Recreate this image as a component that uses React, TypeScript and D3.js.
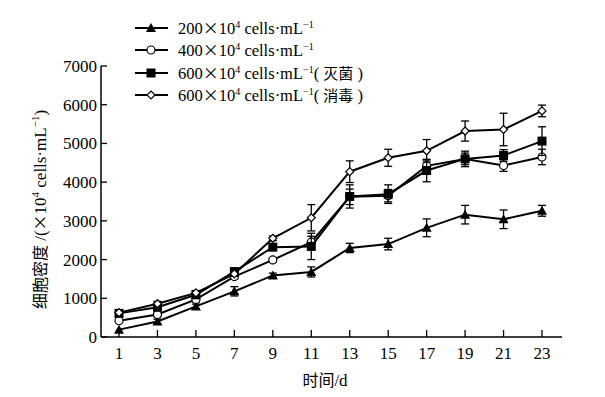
import React from "react";
import * as d3 from "d3";

const days = [1, 3, 5, 7, 9, 11, 13, 15, 17, 19, 21, 23];
const yTicks = [0, 1000, 2000, 3000, 4000, 5000, 6000, 7000];

const s200 = [190, 400, 790, 1180, 1590, 1680, 2300, 2400, 2820, 3160, 3040, 3260];
const s200Err = [0, 60, 60, 120, 60, 130, 120, 150, 230, 240, 240, 140];
const s400 = [420, 580, 970, 1560, 1990, 2450, 3620, 3650, 4420, 4600, 4430, 4650];
const s400Err = [0, 60, 60, 60, 60, 150, 200, 160, 150, 150, 150, 200];
const s600s = [610, 770, 1090, 1690, 2320, 2340, 3630, 3690, 4300, 4600, 4690, 5060];
const s600sErr = [40, 60, 60, 60, 60, 340, 300, 240, 290, 200, 150, 370];
const s600d = [630, 860, 1140, 1630, 2550, 3080, 4270, 4630, 4810, 5320, 5360, 5840];
const s600dErr = [40, 60, 60, 60, 60, 340, 280, 220, 290, 260, 420, 150];

const legendBase = ["200", "400", "600", "600"];
const legendNote = ["", "", "灭菌", "消毒"];

type Mk = "tri" | "circ" | "sq" | "dia";
const series: { vals: number[]; err: number[]; mk: Mk }[] = [
  { vals: s200, err: s200Err, mk: "tri" },
  { vals: s400, err: s400Err, mk: "circ" },
  { vals: s600s, err: s600sErr, mk: "sq" },
  { vals: s600d, err: s600dErr, mk: "dia" },
];

const FONT = "'Liberation Serif', 'Times New Roman', serif";
const CJK = "'Noto Sans CJK SC', sans-serif";

function Marker({ mk, x, y }: { mk: Mk; x: number; y: number }) {
  if (mk === "tri")
    return <path d={`M${x},${y - 5}L${x + 5},${y + 4}L${x - 5},${y + 4}Z`} fill="#000" />;
  if (mk === "circ") return <circle cx={x} cy={y} r={4} fill="#fff" stroke="#000" strokeWidth={1.2} />;
  if (mk === "sq") return <rect x={x - 4.5} y={y - 4.5} width={9} height={9} fill="#000" />;
  return (
    <path d={`M${x},${y - 4}L${x + 4},${y}L${x},${y + 4}L${x - 4},${y}Z`} fill="#fff" stroke="#000" strokeWidth={1.2} />
  );
}

export default function App() {
  const W = 605, H = 397;
  const left = 101, right = 562, top = 66, bottom = 337;
  const x = d3.scaleLinear().domain([1, 23]).range([119, 542]);
  const y = d3.scaleLinear().domain([0, 7000]).range([bottom, top]);
  const line = d3.line<number>().x((_, i) => x(days[i])).y((v) => y(v));

  const legendY = [28, 50, 73, 95];

  return (
    <svg width={W} height={H} style={{ position: "absolute", left: 0, top: 0, background: "#fff" }}>
      <rect width={W} height={H} fill="#fff" />
      {/* axes */}
      <line x1={left} y1={top} x2={left} y2={bottom} stroke="#000" strokeWidth={1.5} />
      <line x1={left} y1={bottom} x2={right} y2={bottom} stroke="#000" strokeWidth={1.5} />
      {yTicks.map((t) => (
        <g key={t}>
          <line x1={left} x2={left + 6} y1={y(t)} y2={y(t)} stroke="#000" strokeWidth={1.3} />
          <text x={left - 4} y={y(t)} dy="0.35em" textAnchor="end" fontFamily={FONT} fontSize={17}>
            {t}
          </text>
        </g>
      ))}
      {days.map((d) => (
        <g key={d}>
          <line x1={x(d)} x2={x(d)} y1={bottom} y2={bottom - 7} stroke="#000" strokeWidth={1.3} />
          <text x={x(d)} y={bottom + 22} textAnchor="middle" fontFamily={FONT} fontSize={17}>
            {d}
          </text>
        </g>
      ))}
      <text x={325} y={386} textAnchor="middle" fontSize={16}>
        <tspan fontFamily={CJK}>时间</tspan>
        <tspan fontFamily={FONT} fontSize={17}>/d</tspan>
      </text>
      <text transform={`translate(46,${(top + bottom) / 2 + 8}) rotate(-90)`} textAnchor="middle" fontSize={16}>
        <tspan fontFamily={CJK}>细胞密度</tspan>
        <tspan fontFamily={FONT} fontSize={17}> /(</tspan>
        <tspan fontFamily={CJK} fontSize={16}>×</tspan>
        <tspan fontFamily={FONT} fontSize={17}>10</tspan>
        <tspan fontFamily={FONT} fontSize={11} dy={-7}>4</tspan>
        <tspan fontFamily={FONT} fontSize={17} dy={7}> cells·mL</tspan>
        <tspan fontFamily={FONT} fontSize={11} dy={-7}>−1</tspan>
        <tspan fontFamily={FONT} fontSize={17} dy={7}>)</tspan>
      </text>
      {/* series */}
      {series.map((s, si) => (
        <g key={si}>
          {s.vals.map((v, i) =>
            s.err[i] > 0 ? (
              <g key={i} stroke="#000" strokeWidth={1.3}>
                <line x1={x(days[i])} x2={x(days[i])} y1={y(v - s.err[i])} y2={y(v + s.err[i])} />
                <line x1={x(days[i]) - 4} x2={x(days[i]) + 4} y1={y(v - s.err[i])} y2={y(v - s.err[i])} />
                <line x1={x(days[i]) - 4} x2={x(days[i]) + 4} y1={y(v + s.err[i])} y2={y(v + s.err[i])} />
              </g>
            ) : null
          )}
          <path d={line(s.vals) || ""} fill="none" stroke="#000" strokeWidth={2} />
          {s.vals.map((v, i) => (
            <Marker key={i} mk={s.mk} x={x(days[i])} y={y(v)} />
          ))}
        </g>
      ))}
      {/* legend */}
      {series.map((s, i) => {
        const ly = legendY[i];
        return (
          <g key={i}>
            <line x1={135} x2={168} y1={ly} y2={ly} stroke="#000" strokeWidth={2} />
            <Marker mk={s.mk} x={151} y={ly} />
            <text x={178} y={ly + 6} fontFamily={FONT} fontSize={16.5}>
              <tspan>{legendBase[i]}</tspan>
              <tspan fontFamily={CJK} fontSize={16}>×</tspan>
              <tspan>10</tspan>
              <tspan fontSize={10} dy={-6}>4</tspan>
              <tspan dy={6}> cells·mL</tspan>
              <tspan fontSize={10} dy={-6}>−1</tspan>
              {legendNote[i] ? (
                <>
                  <tspan dy={6}>( </tspan>
                  <tspan fontFamily={CJK} fontSize={15}>{legendNote[i]}</tspan>
                  <tspan> )</tspan>
                </>
              ) : null}
            </text>
          </g>
        );
      })}
    </svg>
  );
}
